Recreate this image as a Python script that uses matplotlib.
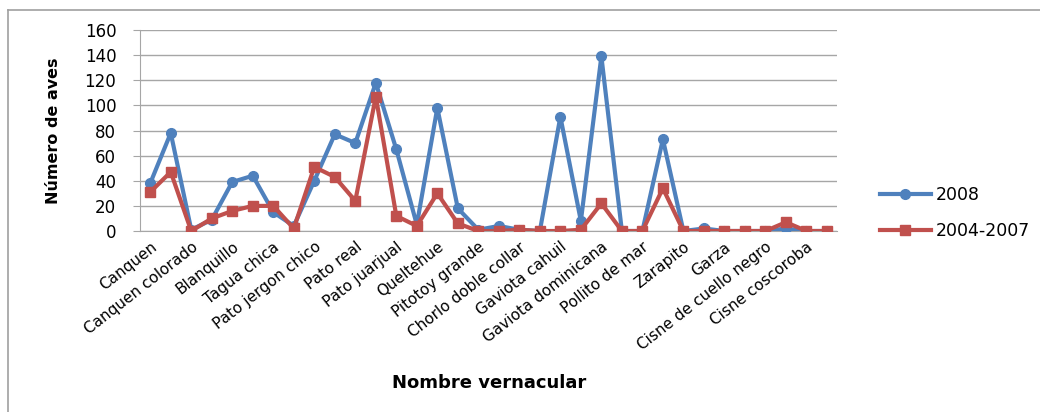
import numpy as np
import matplotlib.pyplot as plt
from matplotlib.lines import Line2D

# Especies (solo se rotulan una de cada dos)
etiquetas = ['Canquen', 'Canquen colorado', 'Blanquillo', 'Tagua chica',
             'Pato jergon chico', 'Pato real', 'Pato juarjual', 'Queltehue',
             'Pitotoy grande', 'Chorlo doble collar', 'Gaviota cahuil',
             'Gaviota dominicana', 'Pollito de mar', 'Zarapito', 'Garza',
             'Cisne de cuello negro', 'Cisne coscoroba']

# Conteos por especie
aves_2008 = [38, 78, 1, 9, 39, 44, 15, 4, 40, 77, 70, 118, 65, 5, 98, 18, 1,
             4, 1, 0, 91, 8, 139, 0, 0, 73, 0, 2, 0, 0, 0, 2, 0, 0]
aves_2004_2007 = [31, 47, 0, 10, 16, 20, 20, 2, 51, 43, 24, 107, 12, 4, 30, 6, 0,
                  0, 1, 0, 0, 1, 22, 0, 0, 34, 0, 0, 0, 0, 0, 7, 0, 0]

azul = '#4F81BD'
rojo = '#C0504D'

x = np.arange(len(aves_2008))

fig = plt.figure(figsize=(10.4, 4.12), dpi=100)
ax = fig.add_axes([0.1346, 0.4393, 0.6704, 0.4878])

ax.plot(x, aves_2008, color=azul, linewidth=3, marker='o', markersize=7, label='2008', zorder=3)
ax.plot(x, aves_2004_2007, color=rojo, linewidth=3, marker='s', markersize=7, label='2004-2007', zorder=4)

ax.set_xlim(-0.5, len(x) - 0.5)
ax.set_ylim(0, 160)
ax.set_yticks(range(0, 161, 20))
ax.yaxis.grid(True, color='#A6A6A6', linewidth=1)
ax.set_axisbelow(True)

ax.set_xticks(x[::2])
ax.set_xticklabels(etiquetas, rotation=38, ha='right', va='top', rotation_mode='anchor')

for lado in ['top', 'right']:
    ax.spines[lado].set_visible(False)
for lado in ['left', 'bottom']:
    ax.spines[lado].set_color('#A6A6A6')

ax.tick_params(axis='y', labelsize=12, length=5, color='#A6A6A6', pad=12)
ax.tick_params(axis='x', labelsize=11, length=0, pad=6)

ax.set_ylabel('Número de aves', fontsize=11.5, fontweight='bold', labelpad=17)
fig.text(0.47, 1 - 383 / 412, 'Nombre vernacular', fontsize=13, fontweight='bold',
         ha='center', va='center')

ax.legend(loc='center left', bbox_to_anchor=(0.838, 1 - 213 / 412), bbox_transform=fig.transFigure,
          frameon=False, fontsize=12.5, handlelength=2.9, labelspacing=1.0,
          borderpad=0, handletextpad=0.3)

# Marco exterior del gráfico
fig.add_artist(Line2D([8 / 1040, 8 / 1040], [0, 1 - 10 / 412], color='#A0A0A0', linewidth=1.2))
fig.add_artist(Line2D([8 / 1040, 1], [1 - 10 / 412, 1 - 10 / 412], color='#A0A0A0', linewidth=1.2))

fig.savefig('out.png', dpi=100)
